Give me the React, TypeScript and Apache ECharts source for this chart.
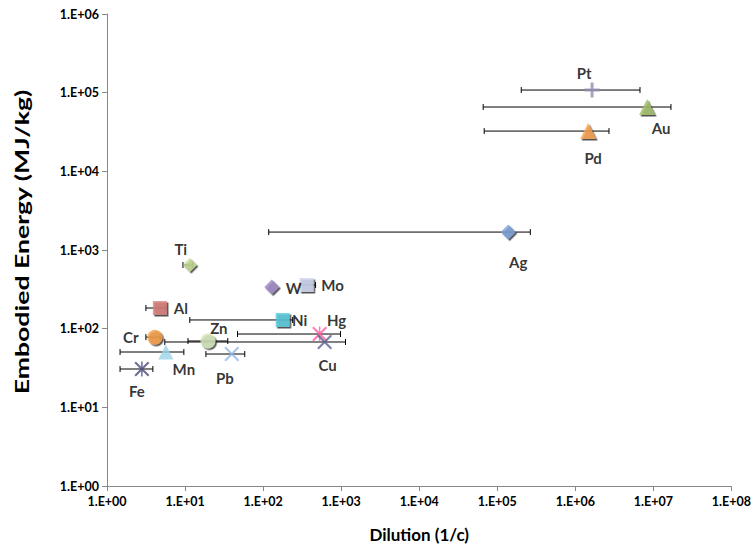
import React, { useEffect, useRef } from "react";
import * as echarts from "echarts";

// ---- data ----
const metals = ["Pt", "Au", "Pd", "Ag", "Ti", "W", "Mo", "Al", "Ni", "Hg", "Cr", "Zn", "Cu", "Mn", "Pb", "Fe"];
const dilution = [1.64e6, 8.3e6, 1.46e6, 1.38e5, 11.5, 129, 361, 4.76, 178, 530, 4.1, 19.6, 614, 5.68, 39.7, 2.8];
const energy = [1.08e5, 6.57e4, 3.25e4, 1690, 645, 338, 359, 183, 129, 85.5, 78, 69.7, 67.7, 50.5, 47.6, 30.7];
const dilutionLow = [2.03e5, 6.6e4, 6.8e4, 118, 9.4, null, 300, 3.15, 11.5, 47, 3.15, 10.9, 5.5, 1.47, 18.5, 1.47];
const dilutionHigh = [6.74e6, 1.68e7, 2.7e6, 2.65e5, 12.5, null, 470, 5.7, 239, 980, 4.8, 35.3, 1137, 9.65, 58.2, 3.87];
const xTickExponents = [0, 1, 2, 3, 4, 5, 6, 7, 8];
const yTickExponents = [0, 1, 2, 3, 4, 5, 6];

// ---- styles ----
const PLUS = "path://M4,0 L6,0 L6,4 L10,4 L10,6 L6,6 L6,10 L4,10 L4,6 L0,6 L0,4 L4,4 Z";
const XMARK = "path://M0,1 L1,0 L5,4 L9,0 L10,1 L6,5 L10,9 L9,10 L5,6 L1,10 L0,9 L4,5 Z";
const STAR = "path://M0,1 L1,0 L5,4 L9,0 L10,1 L6,5 L10,9 L9,10 L5,6 L1,10 L0,9 L4,5 Z M4.5,0 L5.5,0 L5.5,10 L4.5,10 Z";

const markerStyles: Record<string, { symbol: string; size: number; color: string; offset: [number, number]; shadow: boolean }> = {
  Pt: { symbol: PLUS, size: 15, color: "#8e8fb3", offset: [-8, -17], shadow: false },
  Au: { symbol: "triangle", size: 16, color: "#a3c16a", offset: [14, 21], shadow: true },
  Pd: { symbol: "triangle", size: 16, color: "#f8a04f", offset: [5, 27], shadow: true },
  Ag: { symbol: "diamond", size: 15, color: "#7ea3d8", offset: [10, 30], shadow: true },
  Ti: { symbol: "diamond", size: 14, color: "#c6dc96", offset: [-9, -16], shadow: true },
  W: { symbol: "diamond", size: 15, color: "#a08cc6", offset: [22, 1], shadow: true },
  Mo: { symbol: "rect", size: 14, color: "#cdd5ee", offset: [26, 0], shadow: true },
  Al: { symbol: "rect", size: 14, color: "#d8807c", offset: [21, 0], shadow: true },
  Ni: { symbol: "rect", size: 14, color: "#58cadd", offset: [17, 0], shadow: true },
  Hg: { symbol: STAR, size: 15, color: "#ff5c9c", offset: [17, -14], shadow: false },
  Cr: { symbol: "circle", size: 15, color: "#f6a04e", offset: [-24, 0], shadow: true },
  Zn: { symbol: "circle", size: 15, color: "#d6e6bb", offset: [11, -13], shadow: true },
  Cu: { symbol: XMARK, size: 15, color: "#5c6090", offset: [3, 23], shadow: false },
  Mn: { symbol: "triangle", size: 15, color: "#9ad3e6", offset: [18, 17], shadow: false },
  Pb: { symbol: XMARK, size: 15, color: "#93b8e4", offset: [-7, 24], shadow: false },
  Fe: { symbol: STAR, size: 15, color: "#4a4a7c", offset: [-5, 22], shadow: false },
};

const FONT = "Lato, 'Open Sans', sans-serif";

function expLabel(v: number) {
  const e = Math.round(Math.log10(v));
  return "1.E+" + String(e).padStart(2, "0");
}

export default function App() {
  const ref = useRef<HTMLDivElement>(null);
  useEffect(() => {
    document.body.style.margin = "0";
    if (!ref.current) return;
    const chart = echarts.init(ref.current, undefined, { renderer: "svg" });

    const errData: number[][] = [];
    metals.forEach((m, i) => {
      const lo = dilutionLow[i];
      const hi = dilutionHigh[i];
      if (lo != null && hi != null) errData.push([lo, hi, energy[i]]);
    });

    const errorSeries: any = {
      type: "custom",
      z: 1,
      silent: true,
      encode: { x: [0, 1], y: 2 },
      data: errData,
      renderItem: (params: any, api: any) => {
        const y = api.value(2);
        const p1 = api.coord([api.value(0), y]);
        const p2 = api.coord([api.value(1), y]);
        const st = { stroke: "#000", lineWidth: 1 };
        return {
          type: "group",
          children: [
            { type: "line", shape: { x1: p1[0], y1: p1[1], x2: p2[0], y2: p2[1] }, style: st },
            { type: "line", shape: { x1: p1[0], y1: p1[1] - 3, x2: p1[0], y2: p1[1] + 3 }, style: st },
            { type: "line", shape: { x1: p2[0], y1: p2[1] - 3, x2: p2[0], y2: p2[1] + 3 }, style: st },
          ],
        };
      },
    };

    const pointSeries = metals.map((m, i) => {
      const s = markerStyles[m];
      return {
        type: "scatter",
        name: m,
        z: 3,
        symbol: s.symbol,
        symbolSize: s.size,
        data: [[dilution[i], energy[i]]],
        itemStyle: s.shadow
          ? { color: s.color, shadowColor: "rgba(0,0,0,0.85)", shadowBlur: 1, shadowOffsetX: 1.5, shadowOffsetY: 1.5 }
          : { color: s.color },
        label: {
          show: true,
          formatter: m,
          position: "inside",
          offset: s.offset,
          color: "#000",
          fontFamily: FONT,
          fontWeight: "bold",
          fontSize: 15,
        },
      };
    });

    const axisCommon = {
      type: "log",
      logBase: 10,
      axisLine: { show: true, lineStyle: { color: "#888", width: 1 } },
      axisTick: { show: true, length: 5, lineStyle: { color: "#888" } },
      minorTick: { show: false },
      splitLine: { show: false },
      axisLabel: { color: "#000", fontFamily: FONT, fontWeight: "bold", fontSize: 12.5, formatter: expLabel },
    };

    chart.setOption({
      animation: false,
      grid: { left: 107, right: 22, top: 14, bottom: 67, containLabel: false },
      xAxis: {
        ...axisCommon,
        min: Math.pow(10, xTickExponents[0]),
        max: Math.pow(10, xTickExponents[xTickExponents.length - 1]),
        splitNumber: xTickExponents.length - 1,
        axisLabel: { ...axisCommon.axisLabel, margin: 9 },
        name: "Dilution (1/c)",
        nameLocation: "middle",
        nameGap: 40,
        nameTextStyle: { color: "#000", fontFamily: FONT, fontWeight: "bold", fontSize: 17 },
      },
      yAxis: {
        ...axisCommon,
        min: Math.pow(10, yTickExponents[0]),
        max: Math.pow(10, yTickExponents[yTickExponents.length - 1]),
        splitNumber: yTickExponents.length - 1,
        axisLabel: { ...axisCommon.axisLabel, margin: 8 },
      },
      graphic: [
        {
          type: "text",
          x: 22,
          y: 242,
          rotation: Math.PI / 2,
          scaleX: 1.4,
          style: {
            text: "Embodied Energy (MJ/kg)",
            fill: "#000",
            font: "bold 19px " + FONT,
            align: "center",
            verticalAlign: "middle",
          },
        },
      ],
      series: [errorSeries, ...pointSeries],
    });
    return () => chart.dispose();
  }, []);
  return <div ref={ref} style={{ width: 754, height: 553 }} />;
}
